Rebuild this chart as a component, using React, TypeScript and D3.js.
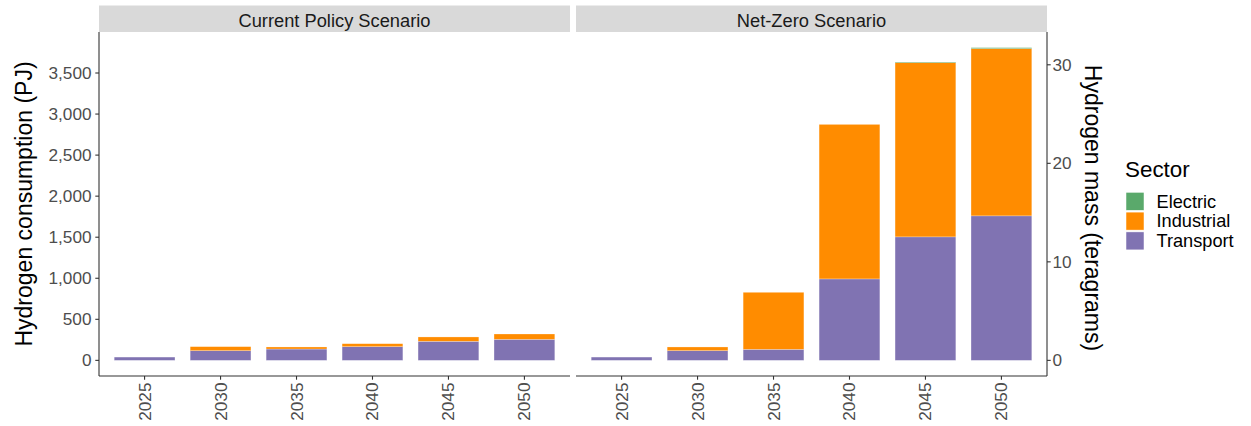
import React from 'react';
import * as d3 from 'd3';

const years = ['2025', '2030', '2035', '2040', '2045', '2050'];
const scenarios = ['Current Policy Scenario', 'Net-Zero Scenario'];
const sectors = ['Electric', 'Industrial', 'Transport'];

// PJ
const currentTransport = [40, 118, 138, 167, 232, 256];
const currentIndustrial = [0, 49, 25, 36, 53, 65];
const currentElectric = [0, 0, 0, 0, 0, 0];
const netZeroTransport = [40, 118, 134, 992, 1504, 1760];
const netZeroIndustrial = [0, 45, 695, 1882, 2122, 2037];
const netZeroElectric = [0, 0, 0, 0, 8, 12];

const leftTicks = [0, 500, 1000, 1500, 2000, 2500, 3000, 3500];
const rightTicks = [0, 10, 20, 30];
const pjPerTg = 120;

const colors: Record<string, string> = {
  Electric: '#5aa96b',
  Industrial: '#ff8c00',
  Transport: '#8073b2',
};

const font = '"Liberation Sans", Arial, sans-serif';

const panelData = [
  { Transport: currentTransport, Industrial: currentIndustrial, Electric: currentElectric },
  { Transport: netZeroTransport, Industrial: netZeroIndustrial, Electric: netZeroElectric },
];

const App = () => {
  const top = 32;
  const bottom = 376;
  const panels = [[99, 570], [576, 1047]];

  const totals = panelData.flatMap(p => years.map((_, i) => p.Transport[i] + p.Industrial[i] + p.Electric[i]));
  const maxV = d3.max(totals) as number;
  const pad = maxV * 0.05;
  const y = d3.scaleLinear().domain([-pad, maxV + pad]).range([bottom, top]);
  const fmt = d3.format(',');
  const stackOrder = ['Transport', 'Industrial', 'Electric'];

  return (
    <svg width={1251} height={426} style={{ position: 'absolute', left: 0, top: 0 }} fontFamily={font}>
      <rect width={1251} height={426} fill="#fff" />
      {panels.map(([x0, x1], pi) => {
        const x = d3.scaleBand().domain(years).range([x0, x1]).paddingInner(0.2).paddingOuter(0.2);
        const rows = years.map((yr, i) => {
          const r: any = { year: yr };
          stackOrder.forEach(s => (r[s] = (panelData[pi] as any)[s][i]));
          return r;
        });
        const series = d3.stack().keys(stackOrder)(rows);
        return (
          <g key={pi}>
            <rect x={x0} y={5.5} width={x1 - x0} height={top - 5.5} fill="#d9d9d9" />
            <text x={(x0 + x1) / 2} y={26.5} textAnchor="middle" fontSize={18.3} fill="#1a1a1a">
              {scenarios[pi]}
            </text>
            {series.map(s => (
              <g key={s.key}>
                {s.map((d, i) =>
                  d[1] - d[0] > 0 ? (
                    <rect
                      key={i}
                      x={x(years[i])}
                      width={x.bandwidth()}
                      y={y(d[1])}
                      height={y(d[0]) - y(d[1])}
                      fill={colors[s.key]}
                      stroke="#fff"
                      strokeOpacity={0.5}
                      strokeWidth={0.5}
                    />
                  ) : null
                )}
              </g>
            ))}
            <line x1={x0} x2={x1} y1={bottom} y2={bottom} stroke="#333" strokeWidth={1.1} />
            {years.map(yr => {
              const cx = (x(yr) as number) + x.bandwidth() / 2;
              return (
                <g key={yr}>
                  <line x1={cx} x2={cx} y1={bottom} y2={bottom + 3.7} stroke="#333" strokeWidth={1.1} />
                  <text
                    transform={`translate(${cx},${bottom + 6.5}) rotate(-90)`}
                    textAnchor="end"
                    dominantBaseline="central"
                    fontSize={17.2}
                    fill="#4d4d4d"
                  >
                    {yr}
                  </text>
                </g>
              );
            })}
          </g>
        );
      })}

      {/* left axis */}
      <line x1={99} x2={99} y1={top} y2={bottom} stroke="#333" strokeWidth={1.1} />
      {leftTicks.map(t => (
        <g key={t}>
          <line x1={95.3} x2={99} y1={y(t)} y2={y(t)} stroke="#333" strokeWidth={1.1} />
          <text x={91.5} y={y(t)} textAnchor="end" dominantBaseline="central" fontSize={17.2} fill="#4d4d4d">
            {fmt(t)}
          </text>
        </g>
      ))}
      <text
        transform={`translate(32,${(top + bottom) / 2}) rotate(-90)`}
        textAnchor="middle"
        fontSize={23}
        fill="#000"
      >
        Hydrogen consumption (PJ)
      </text>

      {/* right axis */}
      <line x1={1047} x2={1047} y1={top} y2={bottom} stroke="#333" strokeWidth={1.1} />
      {rightTicks.map(t => (
        <g key={t}>
          <line x1={1047} x2={1050.7} y1={y(t * pjPerTg)} y2={y(t * pjPerTg)} stroke="#333" strokeWidth={1.1} />
          <text x={1052.5} y={y(t * pjPerTg)} dominantBaseline="central" fontSize={17.2} fill="#4d4d4d">
            {t}
          </text>
        </g>
      ))}
      <text
        transform={`translate(1085,${(top + bottom) / 2 + 4}) rotate(90)`}
        textAnchor="middle"
        fontSize={23}
        fill="#000"
      >
        Hydrogen mass (teragrams)
      </text>

      {/* legend */}
      <text x={1125} y={177} fontSize={22.4} fill="#000">
        Sector
      </text>
      {sectors.map((s, i) => (
        <g key={s}>
          <rect x={1126} y={192.3 + i * 19.8} width={18} height={18} fill={colors[s]} stroke="#fff" strokeWidth={0.5} />
          <text x={1156.5} y={201.5 + i * 19.8} dominantBaseline="central" fontSize={18.2} fill="#000">
            {s}
          </text>
        </g>
      ))}
    </svg>
  );
};

export default App;
